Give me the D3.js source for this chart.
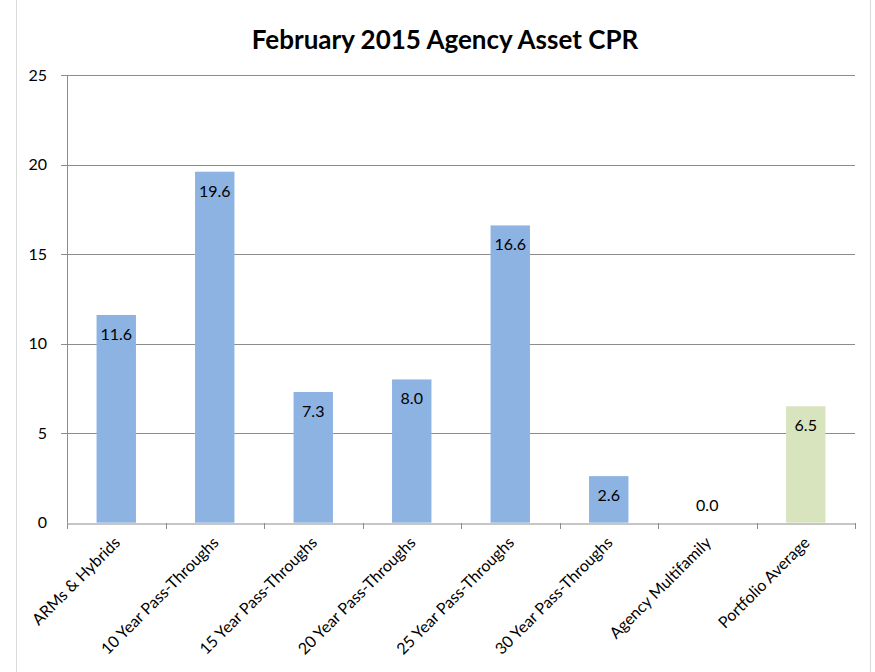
<!DOCTYPE html>
<html>
<head>
<meta charset="utf-8">
<script src="https://cdn.jsdelivr.net/npm/d3@7"></script>
<style>
  body { margin: 0; background: #fff; }
  svg text { font-family: Lato, "Open Sans", sans-serif; fill: #000; }
</style>
</head>
<body>
<div id="chart"></div>
<script>
var categories = ['ARMs & Hybrids', '10 Year Pass-Throughs', '15 Year Pass-Throughs',
    '20 Year Pass-Throughs', '25 Year Pass-Throughs', '30 Year Pass-Throughs',
    'Agency Multifamily', 'Portfolio Average'];
var values = [11.6, 19.6, 7.3, 8.0, 16.6, 2.6, 0.0, 6.5];
var yTicks = [0, 5, 10, 15, 20, 25];

var width = 875,
    height = 672,
    margin = {top: 75, right: 20, bottom: 150, left: 67},
    plotRight = 855,
    plotBottom = 522.7,
    color_bar = '#8db3e2',
    color_avg = '#d7e4bd',
    color_grid = '#8c8c8c';

var svg = d3.select('#chart').append('svg')
    .attr('width', width)
    .attr('height', height);

// Light frame lines of the chart box.
svg.append('line').attr('x1', 16.5).attr('x2', 16.5).attr('y1', 0).attr('y2', height)
    .style('stroke', '#d9d9d9');
svg.append('line').attr('x1', 870.5).attr('x2', 870.5).attr('y1', 0).attr('y2', height)
    .style('stroke', '#d9d9d9');

svg.append('text')
    .attr('x', 445)
    .attr('y', 49)
    .attr('text-anchor', 'middle')
    .attr('font-size', '26px')
    .attr('font-weight', 'bold')
    .text('February 2015 Agency Asset CPR');

var x = d3.scaleBand()
    .domain(categories)
    .range([margin.left, plotRight])
    .padding(0);

var y = d3.scaleLinear()
    .domain([0, 25])
    .range([plotBottom, margin.top]);

// Gridlines with short ticks to the left of the axis.
svg.append('g')
    .selectAll('line')
    .data(yTicks.filter(function (d) { return d > 0; }))
    .enter().append('line')
    .attr('x1', margin.left - 6)
    .attr('x2', plotRight)
    .attr('y1', function (d) { return Math.round(y(d)) + 0.5; })
    .attr('y2', function (d) { return Math.round(y(d)) + 0.5; })
    .style('stroke', color_grid)
    .style('stroke-width', 1);

// Y axis labels.
svg.append('g')
    .selectAll('text')
    .data(yTicks)
    .enter().append('text')
    .attr('x', 47)
    .attr('y', function (d) { return y(d); })
    .attr('dy', '0.35em')
    .attr('text-anchor', 'end')
    .attr('font-size', '16px')
    .text(function (d) { return d; });

// Bars.
var barWidth = x.bandwidth() * 0.4;
svg.append('g')
    .selectAll('rect')
    .data(values)
    .enter().append('rect')
    .attr('x', function (d, i) { return x(categories[i]) + (x.bandwidth() - barWidth) / 2; })
    .attr('y', function (d) { return y(d); })
    .attr('width', barWidth)
    .attr('height', function (d) { return plotBottom - y(d); })
    .style('fill', function (d, i) { return i === categories.length - 1 ? color_avg : color_bar; });

// Value labels inside the top of each bar (above when the bar is empty).
svg.append('g')
    .selectAll('text')
    .data(values)
    .enter().append('text')
    .attr('x', function (d, i) { return x(categories[i]) + x.bandwidth() / 2; })
    .attr('y', function (d) { return d > 0 ? y(d) + 25 : y(d) - 12; })
    .attr('text-anchor', 'middle')
    .attr('font-size', '16px')
    .text(function (d) { return d.toFixed(1); });

// Y axis line and X axis with ticks at category boundaries.
svg.append('line')
    .attr('x1', margin.left + 0.5).attr('x2', margin.left + 0.5)
    .attr('y1', margin.top).attr('y2', plotBottom)
    .style('stroke', color_grid);

var xAxis = d3.axisBottom(x).tickSize(0).tickFormat('');
svg.append('g')
    .attr('transform', 'translate(0,' + (Math.round(plotBottom) + 0.5) + ')')
    .call(xAxis)
    .call(function (g) { g.select('.domain').style('stroke', color_grid); });

svg.append('g')
    .selectAll('line')
    .data(categories.concat([null]))
    .enter().append('line')
    .attr('x1', function (d, i) { return Math.round(margin.left + i * x.step()) + 0.5; })
    .attr('x2', function (d, i) { return Math.round(margin.left + i * x.step()) + 0.5; })
    .attr('y1', Math.round(plotBottom))
    .attr('y2', Math.round(plotBottom) + 6)
    .style('stroke', color_grid);

// Rotated category labels.
svg.append('g')
    .selectAll('text')
    .data(categories)
    .enter().append('text')
    .attr('transform', function (d) {
        return 'translate(' + (x(d) + x.bandwidth() / 2 + 1) + ',' + (plotBottom + 17) + ') rotate(-45)';
    })
    .attr('text-anchor', 'end')
    .attr('dy', '0.35em')
    .attr('font-size', '16px')
    .text(function (d) { return d; });
</script>
</body>
</html>
